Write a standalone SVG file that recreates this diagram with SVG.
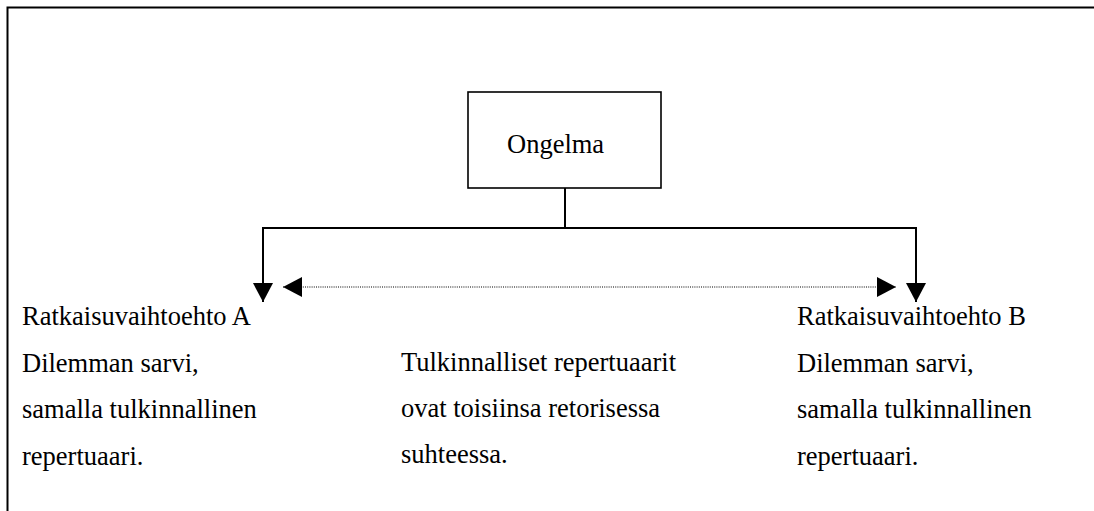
<svg xmlns="http://www.w3.org/2000/svg" width="1094" height="511" viewBox="0 0 1094 511">
  <style>
    .t { font-family: "Liberation Serif", "Times New Roman", serif; font-size: 26.5px; fill: #000; }
    .ln { stroke: #000; stroke-width: 2; fill: none; }
    .dot { stroke: #000; stroke-width: 1.2; stroke-dasharray: 1 1.2; fill: none; }
    .frame { stroke: #000; stroke-width: 2; fill: none; }
    .box { stroke: #000; stroke-width: 1.6; fill: #fff; }
  </style>
  <defs>
    <marker id="arrow" viewBox="0 0 19 20" markerWidth="19" markerHeight="20" refX="19" refY="10" markerUnits="userSpaceOnUse" orient="auto-start-reverse">
      <path d="M0,0 L19,10 L0,20 z" fill="#000"/>
    </marker>
  </defs>
  <rect width="1094" height="511" fill="#fff"/>
  <g id="frame">
    <path class="frame" d="M7.5,511 L7.5,7.5 L1094,7.5"/>
  </g>
  <g id="connectors">
    <path class="ln" d="M565,188 L565,228"/>
    <path class="ln" d="M263,228 L916,228"/>
    <path class="ln" d="M263,227 L263,302" marker-end="url(#arrow)"/>
    <path class="ln" d="M916,227 L916,302" marker-end="url(#arrow)"/>
    <path class="dot" d="M283,287 L896,287" marker-start="url(#arrow)" marker-end="url(#arrow)"/>
  </g>
  <g id="ongelma">
    <rect class="box" x="468" y="92" width="193" height="96"/>
    <text class="t" x="507" y="153">Ongelma</text>
  </g>
  <g id="vaihtoehto-a">
    <text class="t" x="22" y="325">Ratkaisuvaihtoehto A</text>
    <text class="t" x="22" y="371.5">Dilemman sarvi,</text>
    <text class="t" x="22" y="418">samalla tulkinnallinen</text>
    <text class="t" x="22" y="465">repertuaari.</text>
  </g>
  <g id="suhde">
    <text class="t" x="401" y="371">Tulkinnalliset repertuaarit</text>
    <text class="t" x="401" y="416.5">ovat toisiinsa retorisessa</text>
    <text class="t" x="401" y="462.5">suhteessa.</text>
  </g>
  <g id="vaihtoehto-b">
    <text class="t" x="797" y="325">Ratkaisuvaihtoehto B</text>
    <text class="t" x="797" y="371.5">Dilemman sarvi,</text>
    <text class="t" x="797" y="418">samalla tulkinnallinen</text>
    <text class="t" x="797" y="465">repertuaari.</text>
  </g>
</svg>
